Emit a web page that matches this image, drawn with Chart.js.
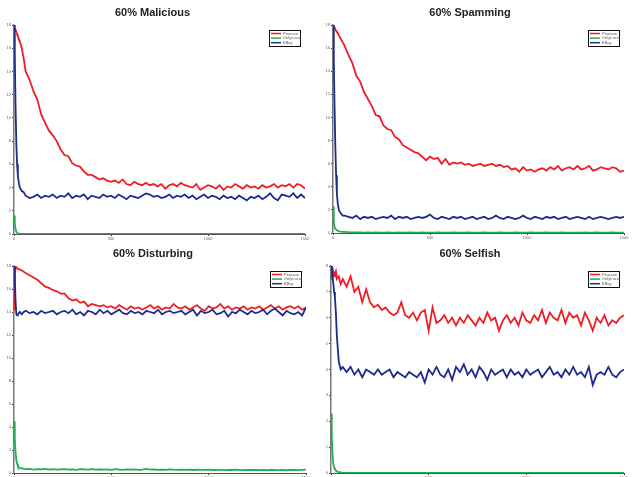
<!DOCTYPE html>
<html>
<head>
<meta charset="utf-8">
<script src="https://cdn.jsdelivr.net/npm/chart.js@4/dist/chart.umd.min.js"></script>
<style>
  body { margin: 0; background: #fff; }
  #wrap { position: relative; width: 632px; height: 477px; overflow: hidden; }
  canvas { position: absolute; }
</style>
</head>
<body>
<div id="wrap">
  <canvas id="c0" width="316" height="240" style="left:0;top:0"></canvas>
  <canvas id="c1" width="316" height="240" style="left:316px;top:0"></canvas>
  <canvas id="c2" width="316" height="240" style="left:0;top:240px"></canvas>
  <canvas id="c3" width="316" height="240" style="left:316px;top:240px"></canvas>
</div>
<script>
// x positions (rounds) shared by every series
const xs = [0,4,8,12,16,20,25,30,40,50,
  60,80,100,120,140,160,180,200,220,240,
  260,280,300,320,340,360,380,400,420,440,
  460,480,500,520,540,560,580,600,620,640,
  660,680,700,720,740,760,780,800,820,840,
  860,880,900,920,940,960,980,1000,1020,1040,
  1060,1080,1100,1120,1140,1160,1180,1200,1220,1240,
  1260,1280,1300,1320,1340,1360,1380,1400,1420,1440,
  1460,1480,1500];

const titles = ['60% Malicious', '60% Spamming', '60% Disturbing', '60% Selfish'];
const seriesNames = ['Pearson', 'OnlyLocal', 'EBay'];
const yMaxes = [18, 18, 18, 8];
const ySteps = [2, 2, 2, 1];
const xTicks = [0, 500, 1000, 1500];

// 60% Malicious
const maliciousPearson = [17.5,17.7,17.6,17.4,17.2,17.0,16.8,16.6,16.0,15.1,
  14.0,13.3,12.3,11.6,10.3,9.6,8.9,8.5,8.0,7.3,
  6.8,6.7,6.1,5.9,5.8,5.4,5.1,5.1,4.9,4.7,
  4.8,4.6,4.5,4.6,4.4,4.7,4.3,4.2,4.5,4.3,
  4.2,4.4,4.2,4.3,4.1,4.3,3.9,4.2,4.3,4.1,
  4.4,4.2,4.1,4.0,4.3,3.8,4.0,4.2,4.1,3.9,
  4.2,3.8,4.1,4.0,4.3,4.1,3.9,4.2,4.0,4.1,
  3.9,4.2,4.0,4.1,4.3,4.0,4.2,4.1,4.3,4.0,
  4.3,4.2,3.9];
const maliciousOnlyLocal = [1.6,0.9,0.4,0.2,0.1,0.05,0.03,0.02,0.01,0,
  0,0,0,0,0,0,0,0,0,0,
  0,0,0,0,0,0,0,0,0,0,
  0,0,0,0,0,0,0,0,0,0,
  0,0,0,0,0,0,0,0,0,0,
  0,0,0,0,0,0,0,0,0,0,
  0,0,0,0,0,0,0,0,0,0,
  0,0,0,0,0,0,0,0,0,0,
  0,0,0];
const maliciousEBay = [18.0,15.5,11.0,7.8,6.0,5.0,4.4,4.0,3.7,3.6,
  3.3,3.1,3.2,3.4,3.1,3.3,3.2,3.4,3.1,3.3,
  3.2,3.5,3.1,3.3,3.2,3.4,3.0,3.3,3.2,3.1,
  3.4,3.2,3.3,3.1,3.4,3.2,3.0,3.3,3.2,3.1,
  3.3,3.5,3.4,3.2,3.3,3.1,3.2,3.4,3.1,3.3,
  3.2,3.4,3.1,3.3,3.0,3.2,3.4,3.1,3.3,3.2,
  3.0,3.3,3.1,3.2,3.0,3.3,3.1,2.9,3.2,3.1,
  3.3,3.0,3.2,3.5,3.1,2.9,3.4,3.3,3.2,3.5,
  3.1,3.4,3.1];

// 60% Spamming
const spammingPearson = [18.0,17.9,17.8,17.6,17.5,17.4,17.3,17.1,16.8,16.5,
  16.2,15.4,14.7,13.6,13.1,12.2,11.6,11.0,10.2,10.1,
  9.3,9.0,8.9,8.3,8.1,7.6,7.4,7.2,7.0,6.9,
  6.6,6.3,6.6,6.4,6.5,6.0,6.4,5.9,6.1,6.0,
  6.1,5.9,6.0,5.8,5.9,6.0,5.8,5.9,6.0,5.8,
  5.9,5.7,5.8,5.5,5.6,5.3,5.7,5.4,5.5,5.3,
  5.5,5.6,5.4,5.7,5.5,5.8,5.4,5.6,5.7,5.5,
  5.8,5.5,5.6,5.8,5.4,5.5,5.7,5.6,5.5,5.7,
  5.6,5.3,5.4];
const spammingOnlyLocal = [2.3,1.0,0.5,0.35,0.3,0.25,0.2,0.15,0.12,0.1,
  0.09,0.07,0.06,0.05,0.06,0.04,0.05,0.04,0.05,0.03,
  0.04,0.05,0.03,0.04,0.05,0.03,0.04,0.06,0.03,0.04,
  0.05,0.03,0.04,0.03,0.05,0.04,0.03,0.04,0.05,0.03,
  0.04,0.03,0.05,0.04,0.03,0.04,0.05,0.03,0.04,0.03,
  0.05,0.04,0.03,0.04,0.05,0.03,0.04,0.03,0.05,0.04,
  0.03,0.04,0.05,0.03,0.04,0.03,0.05,0.04,0.03,0.04,
  0.04,0.03,0.05,0.04,0.03,0.05,0.04,0.03,0.04,0.05,
  0.03,0.04,0.03];
const spammingEBay = [18.0,15.0,11.0,7.5,5.0,3.4,2.5,2.0,1.7,1.5,
  1.5,1.4,1.3,1.5,1.2,1.4,1.3,1.4,1.2,1.3,
  1.4,1.3,1.5,1.2,1.4,1.3,1.4,1.2,1.3,1.4,
  1.3,1.4,1.6,1.3,1.2,1.4,1.3,1.2,1.4,1.3,
  1.4,1.2,1.3,1.4,1.2,1.3,1.4,1.2,1.3,1.5,
  1.3,1.2,1.4,1.3,1.2,1.3,1.5,1.3,1.2,1.4,
  1.3,1.2,1.4,1.3,1.4,1.2,1.3,1.4,1.2,1.3,
  1.4,1.3,1.2,1.4,1.2,1.3,1.4,1.3,1.2,1.3,
  1.4,1.3,1.4];

// 60% Disturbing
const disturbingPearson = [14.2,17.0,18.0,17.9,17.8,17.8,17.7,17.7,17.6,17.5,
  17.4,17.2,17.0,16.8,16.5,16.2,16.1,15.9,15.8,15.6,
  15.6,15.2,15.0,15.1,14.8,14.9,14.5,14.7,14.6,14.5,
  14.6,14.4,14.5,14.3,14.6,14.4,14.2,14.5,14.3,14.4,
  14.2,14.4,14.6,14.3,14.5,14.2,14.4,14.3,14.7,14.4,
  14.3,14.5,14.2,14.4,14.6,14.3,14.1,14.5,14.3,14.4,
  14.7,14.3,14.5,14.2,14.4,14.3,14.5,14.2,14.4,14.3,
  14.5,14.2,14.4,14.6,14.3,14.5,14.2,14.4,14.5,14.3,
  14.5,14.2,14.4];
const disturbingOnlyLocal = [4.5,3.0,1.8,1.1,0.8,0.6,0.5,0.45,0.4,0.35,
  0.33,0.36,0.3,0.34,0.31,0.35,0.3,0.33,0.29,0.32,
  0.34,0.3,0.32,0.28,0.33,0.31,0.29,0.34,0.3,0.32,
  0.29,0.31,0.28,0.33,0.3,0.27,0.32,0.29,0.31,0.28,
  0.3,0.36,0.29,0.31,0.28,0.3,0.27,0.31,0.29,0.28,
  0.3,0.27,0.29,0.26,0.3,0.28,0.27,0.29,0.26,0.28,
  0.27,0.25,0.28,0.26,0.29,0.27,0.25,0.28,0.26,0.27,
  0.25,0.27,0.24,0.28,0.26,0.25,0.27,0.24,0.26,0.28,
  0.25,0.27,0.29];
const disturbingEBay = [18.0,17.0,15.0,13.8,13.7,13.8,13.9,14.0,13.8,14.0,
  14.1,13.9,14.0,13.8,14.1,13.9,14.0,14.1,13.8,14.0,
  14.1,13.9,14.2,13.8,14.0,13.7,14.1,14.0,13.8,14.2,
  13.9,14.1,13.8,14.0,14.2,13.9,13.8,14.1,13.9,14.0,
  13.8,14.1,14.0,13.9,14.2,13.8,14.0,14.1,13.9,14.0,
  14.1,13.8,14.0,14.2,13.7,14.1,13.9,14.0,14.2,13.8,
  13.9,14.1,13.6,14.0,13.9,14.2,14.0,13.8,14.1,13.9,
  14.0,14.2,13.8,14.1,14.3,14.0,13.7,14.1,13.9,13.8,
  14.0,13.7,14.4];

// 60% Selfish
const selfishPearson = [7.5,7.7,7.9,7.8,7.6,7.7,7.8,7.5,7.6,7.3,
  7.5,7.2,7.6,7.0,7.2,6.6,7.1,6.6,6.4,6.5,
  6.3,6.4,6.2,6.1,6.2,6.6,6.1,6.0,6.2,5.9,
  6.2,6.3,5.5,6.4,5.8,5.9,6.1,5.8,6.0,5.7,
  6.0,5.8,6.1,5.9,5.7,6.0,5.8,6.2,5.9,6.0,
  5.5,5.9,6.1,5.8,6.0,5.7,6.2,5.9,5.8,6.1,
  5.9,6.3,5.8,6.2,6.0,5.9,6.3,5.8,6.2,6.0,
  6.1,5.7,6.2,5.9,5.5,6.0,5.8,6.1,5.7,5.9,
  5.8,6.0,6.1];
const selfishOnlyLocal = [2.3,1.4,0.7,0.35,0.2,0.15,0.1,0.06,0.03,0.02,
  0,0,0,0,0,0,0,0,0,0,
  0,0,0,0,0,0,0,0,0,0,
  0,0,0,0,0,0,0,0,0,0,
  0,0,0,0,0,0,0,0,0,0,
  0,0,0,0,0,0,0,0,0,0,
  0,0,0,0,0,0,0,0,0,0,
  0,0,0,0,0,0,0,0,0,0,
  0,0,0];
const selfishEBay = [8.0,7.9,7.6,7.3,7.0,6.8,6.2,5.3,4.3,4.0,
  4.1,3.9,4.1,3.8,4.0,3.7,4.0,3.9,3.8,4.0,
  3.8,3.9,4.0,3.7,3.9,3.8,3.7,3.9,3.8,3.7,
  3.9,3.5,4.0,3.8,4.1,3.8,3.7,4.0,3.6,4.1,
  3.9,4.2,3.8,4.0,3.7,4.1,3.9,3.6,4.0,3.8,
  3.9,4.0,3.7,4.0,3.8,3.9,3.7,4.0,3.8,3.9,
  4.0,3.7,3.9,4.1,3.8,3.9,3.7,4.0,3.8,4.1,
  3.8,3.9,3.7,4.1,3.4,3.8,3.9,3.8,4.1,3.8,
  3.7,3.9,4.0];

const panelSeries = [
  [maliciousPearson, maliciousOnlyLocal, maliciousEBay],
  [spammingPearson, spammingOnlyLocal, spammingEBay],
  [disturbingPearson, disturbingOnlyLocal, disturbingEBay],
  [selfishPearson, selfishOnlyLocal, selfishEBay]
];

const colors = ['#ee1d27', '#20b14b', '#1f2b8c'];
const drawOrder = [2, 1, 0];

// layout of each canvas: y axis width, x axis height, right padding, title pad
const layouts = [
  { yw: 14, xh: 6, right: 11, tTop: 7, tBot: 7 },
  { yw: 17, xh: 7, right: 8, tTop: 7, tBot: 7 },
  { yw: 14, xh: 7, right: 10, tTop: 8, tBot: 7 },
  { yw: 15, xh: 7, right: 8, tTop: 8, tBot: 7 }
];

const legendBox = {
  id: 'legendBox',
  afterDraw(chart) {
    const { ctx, chartArea } = chart;
    const w = 31, h = 16;
    const x0 = chartArea.right - w - 5, y0 = chartArea.top + 5;
    ctx.save();
    ctx.fillStyle = '#fff';
    ctx.fillRect(x0, y0, w, h);
    ctx.strokeStyle = '#111';
    ctx.lineWidth = 1;
    ctx.strokeRect(x0 + 0.5, y0 + 0.5, w, h);
    ctx.font = '4px "Liberation Sans", Arial, sans-serif';
    ctx.textBaseline = 'middle';
    chart.data.datasets.forEach((ds, i) => {
      const yy = y0 + 3.5 + i * 4.6;
      ctx.strokeStyle = ds.borderColor;
      ctx.lineWidth = 1.5;
      ctx.beginPath();
      ctx.moveTo(x0 + 2, yy);
      ctx.lineTo(x0 + 12, yy);
      ctx.stroke();
      ctx.fillStyle = '#555';
      ctx.fillText(ds.label, x0 + 14, yy);
    });
    ctx.restore();
  }
};

titles.forEach((title, p) => {
  const L = layouts[p];
  new Chart(document.getElementById('c' + p), {
    type: 'line',
    data: {
      datasets: panelSeries[p].map((ys, i) => ({
        label: seriesNames[i],
        data: ys.map((y, k) => ({ x: xs[k], y: y })),
        borderColor: colors[i],
        backgroundColor: colors[i],
        borderWidth: 1.8,
        pointRadius: 0,
        tension: 0,
        order: drawOrder[i]
      }))
    },
    plugins: [legendBox],
    options: {
      responsive: false,
      animation: false,
      layout: { padding: { left: 0, right: L.right, top: 0, bottom: 0 } },
      plugins: {
        legend: { display: false },
        tooltip: { enabled: false },
        title: {
          display: true,
          text: title,
          color: '#222',
          font: { family: '"Liberation Sans", Arial, sans-serif', size: 11, weight: 'bold', lineHeight: 1 },
          padding: { top: L.tTop, bottom: L.tBot }
        }
      },
      scales: {
        x: {
          type: 'linear',
          min: 0,
          max: 1500,
          afterBuildTicks: s => { s.ticks = xTicks.map(v => ({ value: v })); },
          afterFit: s => { s.height = L.xh; },
          grid: { drawOnChartArea: false, tickLength: 2, color: '#333' },
          border: { color: '#555', width: 1 },
          ticks: {
            color: '#666', padding: 0, maxRotation: 0,
            font: { size: 4, family: '"Liberation Sans", Arial' },
            callback: v => String(v)
          }
        },
        y: {
          min: 0,
          max: yMaxes[p],
          afterFit: s => { s.width = L.yw; },
          grid: { drawOnChartArea: false, tickLength: 2, color: '#333' },
          border: { color: '#777', width: 1.5 },
          ticks: { stepSize: ySteps[p], color: '#666', padding: 1, font: { size: 4, family: '"Liberation Sans", Arial' } }
        }
      }
    }
  });
});
</script>
</body>
</html>
